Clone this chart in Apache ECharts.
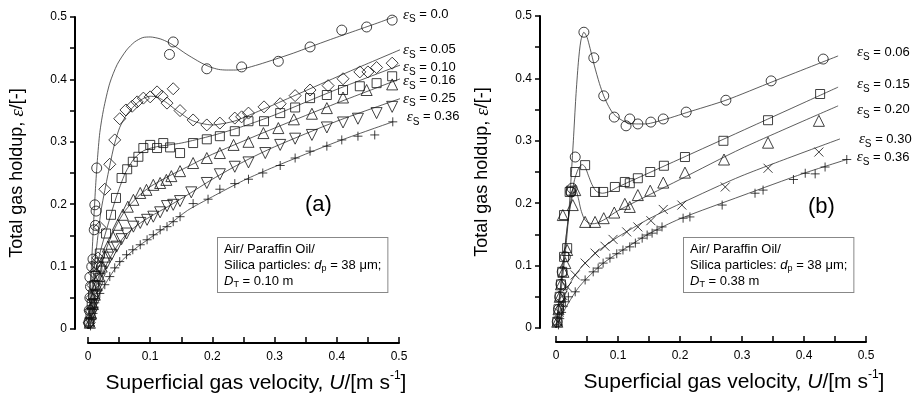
<!DOCTYPE html>
<html><head><meta charset="utf-8">
<script src="https://cdn.jsdelivr.net/npm/echarts@6/dist/echarts.min.js"></script>
<style>html,body{margin:0;padding:0;background:#fff}#c{width:919px;height:397px}</style>
</head><body><div id="c"></div>
<script>
// ---------- tick labels ----------
const xTickValues = [0, 0.1, 0.2, 0.3, 0.4, 0.5];
const yTickValues = [0, 0.1, 0.2, 0.3, 0.4, 0.5];

// ---------- series names (solid holdup) ----------
const labelsA = ['0.0', '0.05', '0.10', '0.16', '0.25', '0.36'];
const labelsB = ['0.06', '0.15', '0.20', '0.30', '0.36'];

// ---------- panel (a) measured points [U, eps] ----------
const a00 = [[0.001,0.01],[0.002,0.03],[0.003,0.05],[0.004,0.068],[0.003,0.083],[0.006,0.1],[0.008,0.112],[0.010,0.159],[0.012,0.166],[0.013,0.189],[0.011,0.199],[0.014,0.258],[0.131,0.44],[0.137,0.46],[0.191,0.417],[0.247,0.42],[0.306,0.429],[0.357,0.452],[0.408,0.479],[0.448,0.484],[0.489,0.495]];
const a05 = [[0.002,0.01],[0.004,0.03],[0.006,0.05],[0.008,0.07],[0.010,0.09],[0.013,0.105],[0.016,0.114],[0.019,0.163],[0.027,0.224],[0.035,0.264],[0.043,0.303],[0.051,0.337],[0.061,0.351],[0.071,0.357],[0.079,0.364],[0.089,0.37],[0.1,0.372],[0.111,0.38],[0.119,0.373],[0.127,0.362],[0.137,0.385],[0.148,0.35],[0.169,0.335],[0.191,0.327],[0.212,0.33],[0.236,0.338],[0.247,0.34],[0.258,0.346],[0.283,0.356],[0.309,0.361],[0.333,0.374],[0.357,0.383],[0.386,0.39],[0.41,0.401],[0.437,0.412],[0.45,0.412],[0.464,0.419],[0.489,0.426]];
const a10 = [[0.002,0.01],[0.004,0.025],[0.006,0.04],[0.008,0.055],[0.010,0.07],[0.012,0.085],[0.015,0.1],[0.019,0.121],[0.029,0.153],[0.037,0.183],[0.045,0.21],[0.054,0.242],[0.063,0.256],[0.072,0.268],[0.081,0.276],[0.089,0.29],[0.1,0.295],[0.111,0.29],[0.121,0.298],[0.132,0.291],[0.148,0.282],[0.169,0.298],[0.191,0.304],[0.212,0.309],[0.236,0.317],[0.258,0.333],[0.283,0.333],[0.309,0.346],[0.333,0.355],[0.357,0.37],[0.384,0.375],[0.41,0.383],[0.437,0.389],[0.464,0.394],[0.489,0.405]];
const a16 = [[0.003,0.01],[0.005,0.025],[0.008,0.04],[0.011,0.055],[0.014,0.07],[0.018,0.085],[0.022,0.1],[0.027,0.116],[0.032,0.132],[0.040,0.148],[0.048,0.167],[0.056,0.183],[0.064,0.196],[0.073,0.207],[0.084,0.218],[0.094,0.223],[0.105,0.231],[0.116,0.234],[0.126,0.239],[0.134,0.245],[0.148,0.253],[0.169,0.266],[0.191,0.274],[0.212,0.282],[0.234,0.295],[0.258,0.3],[0.282,0.314],[0.306,0.322],[0.331,0.336],[0.36,0.345],[0.384,0.354],[0.41,0.371],[0.448,0.383],[0.489,0.392]];
const a25 = [[0.004,0.01],[0.007,0.025],[0.010,0.04],[0.013,0.055],[0.016,0.068],[0.019,0.08],[0.022,0.092],[0.03,0.105],[0.038,0.119],[0.046,0.132],[0.054,0.144],[0.062,0.153],[0.073,0.164],[0.084,0.17],[0.095,0.175],[0.105,0.18],[0.116,0.187],[0.127,0.197],[0.137,0.199],[0.148,0.205],[0.166,0.219],[0.191,0.234],[0.212,0.248],[0.236,0.26],[0.258,0.267],[0.285,0.282],[0.309,0.295],[0.333,0.305],[0.36,0.311],[0.384,0.323],[0.41,0.331],[0.434,0.337],[0.464,0.346],[0.489,0.356]];
const a36 = [[0.004,0.005],[0.006,0.015],[0.008,0.025],[0.010,0.035],[0.011,0.042],[0.019,0.057],[0.027,0.071],[0.035,0.084],[0.043,0.098],[0.051,0.108],[0.062,0.119],[0.072,0.127],[0.084,0.135],[0.095,0.143],[0.105,0.151],[0.116,0.159],[0.127,0.164],[0.137,0.172],[0.148,0.18],[0.169,0.201],[0.193,0.208],[0.212,0.224],[0.236,0.233],[0.258,0.24],[0.281,0.25],[0.309,0.262],[0.333,0.274],[0.357,0.285],[0.384,0.293],[0.408,0.303],[0.434,0.309],[0.461,0.311],[0.49,0.332]];

// ---------- panel (a) fitted curves ----------
const c00 = [[0,0],[0.003,0.05],[0.006,0.11],[0.009,0.17],[0.012,0.225],[0.015,0.27],[0.019,0.315],[0.025,0.352],[0.035,0.394],[0.047,0.424],[0.062,0.447],[0.075,0.46],[0.088,0.467],[0.1,0.468],[0.116,0.465],[0.13,0.459],[0.143,0.451],[0.156,0.442],[0.169,0.434],[0.183,0.426],[0.196,0.42],[0.21,0.416],[0.223,0.415],[0.237,0.415],[0.25,0.417],[0.275,0.424],[0.3,0.432],[0.33,0.442],[0.357,0.452],[0.39,0.464],[0.43,0.478],[0.47,0.492],[0.51,0.507]];
const c05 = [[0,0],[0.004,0.04],[0.008,0.08],[0.012,0.115],[0.016,0.15],[0.021,0.19],[0.027,0.222],[0.035,0.262],[0.043,0.298],[0.051,0.323],[0.06,0.34],[0.07,0.353],[0.08,0.363],[0.09,0.37],[0.1,0.373],[0.11,0.372],[0.12,0.367],[0.13,0.36],[0.14,0.352],[0.15,0.345],[0.16,0.338],[0.17,0.333],[0.18,0.33],[0.19,0.328],[0.2,0.327],[0.21,0.328],[0.235,0.333],[0.26,0.343],[0.3,0.36],[0.357,0.385],[0.43,0.417],[0.51,0.451]];
const c10 = [[0,0],[0.005,0.04],[0.01,0.075],[0.015,0.102],[0.02,0.125],[0.03,0.16],[0.045,0.21],[0.06,0.25],[0.075,0.274],[0.09,0.286],[0.11,0.292],[0.15,0.298],[0.2,0.31],[0.25,0.325],[0.3,0.343],[0.4,0.384],[0.51,0.426]];
const c16 = [[0,0],[0.005,0.03],[0.01,0.055],[0.02,0.095],[0.03,0.13],[0.045,0.165],[0.06,0.19],[0.08,0.212],[0.1,0.228],[0.13,0.245],[0.16,0.26],[0.2,0.28],[0.3,0.322],[0.4,0.362],[0.51,0.404]];
const c25 = [[0,0],[0.005,0.024],[0.01,0.045],[0.02,0.08],[0.03,0.104],[0.045,0.13],[0.06,0.15],[0.08,0.167],[0.1,0.18],[0.13,0.197],[0.16,0.215],[0.2,0.24],[0.25,0.268],[0.3,0.292],[0.4,0.333],[0.51,0.372]];
const c36 = [[0,0],[0.005,0.018],[0.01,0.035],[0.02,0.058],[0.035,0.084],[0.05,0.105],[0.075,0.128],[0.1,0.146],[0.13,0.167],[0.16,0.19],[0.2,0.212],[0.25,0.238],[0.3,0.26],[0.4,0.3],[0.49,0.332]];

// ---------- panel (b) measured points ----------
const b06 = [[0.002,0.01],[0.004,0.03],[0.006,0.05],[0.008,0.07],[0.010,0.09],[0.015,0.114],[0.024,0.218],[0.026,0.224],[0.031,0.274],[0.045,0.474],[0.061,0.433],[0.077,0.372],[0.094,0.338],[0.113,0.324],[0.119,0.335],[0.132,0.327],[0.153,0.33],[0.173,0.335],[0.21,0.346],[0.274,0.365],[0.347,0.396],[0.431,0.431]];
const b15 = [[0.002,0.01],[0.004,0.03],[0.006,0.05],[0.008,0.07],[0.010,0.09],[0.013,0.114],[0.018,0.128],[0.013,0.181],[0.022,0.218],[0.024,0.22],[0.031,0.25],[0.047,0.261],[0.063,0.218],[0.076,0.218],[0.095,0.226],[0.111,0.234],[0.119,0.232],[0.132,0.24],[0.152,0.25],[0.174,0.26],[0.208,0.274],[0.27,0.3],[0.342,0.333],[0.426,0.375]];
const b20 = [[0.002,0.01],[0.004,0.03],[0.006,0.05],[0.008,0.07],[0.012,0.09],[0.015,0.104],[0.018,0.125],[0.011,0.181],[0.027,0.197],[0.031,0.221],[0.047,0.17],[0.063,0.17],[0.077,0.176],[0.094,0.185],[0.111,0.199],[0.119,0.194],[0.132,0.213],[0.152,0.22],[0.173,0.233],[0.208,0.249],[0.271,0.27],[0.342,0.297],[0.424,0.332]];
const b30 = [[0.003,0.01],[0.005,0.025],[0.008,0.04],[0.011,0.052],[0.018,0.066],[0.031,0.085],[0.047,0.104],[0.063,0.12],[0.079,0.131],[0.092,0.142],[0.114,0.154],[0.132,0.162],[0.153,0.172],[0.173,0.19],[0.203,0.197],[0.273,0.226],[0.342,0.256],[0.424,0.282]];
const b36 = [[0.004,0.005],[0.006,0.015],[0.009,0.025],[0.012,0.035],[0.015,0.042],[0.02,0.05],[0.031,0.058],[0.047,0.077],[0.06,0.09],[0.068,0.096],[0.076,0.104],[0.087,0.112],[0.098,0.119],[0.108,0.125],[0.119,0.13],[0.128,0.136],[0.139,0.144],[0.147,0.149],[0.155,0.152],[0.163,0.157],[0.171,0.162],[0.205,0.176],[0.216,0.178],[0.268,0.197],[0.321,0.216],[0.334,0.221],[0.383,0.238],[0.402,0.248],[0.418,0.247],[0.434,0.258],[0.469,0.27]];

// ---------- panel (b) fitted curves ----------
const d06 = [[0,0],[0.005,0.035],[0.01,0.075],[0.015,0.12],[0.02,0.175],[0.024,0.235],[0.028,0.3],[0.032,0.37],[0.036,0.425],[0.04,0.46],[0.045,0.474],[0.05,0.466],[0.055,0.448],[0.062,0.42],[0.07,0.392],[0.077,0.372],[0.085,0.355],[0.092,0.344],[0.1,0.337],[0.11,0.331],[0.12,0.328],[0.13,0.327],[0.145,0.327],[0.16,0.33],[0.185,0.337],[0.21,0.345],[0.274,0.365],[0.35,0.395],[0.455,0.436]];
const d15 = [[0,0],[0.005,0.045],[0.01,0.09],[0.015,0.135],[0.02,0.178],[0.025,0.212],[0.03,0.238],[0.036,0.255],[0.042,0.262],[0.047,0.258],[0.052,0.245],[0.058,0.23],[0.065,0.219],[0.075,0.216],[0.087,0.219],[0.1,0.226],[0.2,0.271],[0.3,0.316],[0.455,0.386]];
const d20 = [[0,0],[0.005,0.045],[0.01,0.09],[0.015,0.135],[0.02,0.175],[0.025,0.205],[0.029,0.219],[0.032,0.22],[0.036,0.208],[0.04,0.19],[0.045,0.176],[0.05,0.17],[0.058,0.167],[0.066,0.168],[0.08,0.175],[0.1,0.188],[0.2,0.238],[0.3,0.288],[0.455,0.356]];
const d30 = [[0,0],[0.005,0.022],[0.01,0.04],[0.02,0.066],[0.031,0.085],[0.047,0.104],[0.07,0.125],[0.1,0.146],[0.15,0.175],[0.2,0.199],[0.3,0.244],[0.458,0.303]];
const d36 = [[0,0],[0.005,0.012],[0.01,0.022],[0.02,0.04],[0.035,0.063],[0.05,0.08],[0.075,0.103],[0.1,0.12],[0.15,0.151],[0.2,0.175],[0.3,0.212],[0.4,0.248],[0.469,0.27]];

// ---------- build ----------
const SANS = 'Liberation Sans';
const SERIF = 'Liberation Serif';
const PLUS = 'path://M0,5L10,5M5,0L5,10';
const CROSS = 'path://M0,0L10,10M10,0L0,10';

function fmtTick(list) {
  return function (v) {
    const t = list.find(x => Math.abs(x - v) < 1e-9);
    return t === undefined ? '' : String(t);
  };
}
const xName = 'Superficial gas velocity, {i|U}/[m s{sup|-1}]';
const yName = 'Total gas holdup, {e|ε}/[-]';

function xAxisFor(gi, padLeft) {
  return {
    type: 'value', gridIndex: gi, min: 0, max: 0.5, interval: 0.05, offset: 14,
    axisLine: { show: true, onZero: false, lineStyle: { color: '#000', width: 2 } },
    axisTick: { show: true, inside: true, length: 6, lineStyle: { color: '#000', width: 1.5 } },
    axisLabel: { color: '#000', fontSize: 12, fontFamily: SANS, margin: 8, formatter: fmtTick(xTickValues) },
    splitLine: { show: false },
    name: xName, nameLocation: 'middle', nameGap: 27,
    nameTextStyle: {
      color: '#000', fontSize: 21, fontFamily: SANS, lineHeight: 26, padding: [0, 0, 0, padLeft],
      rich: {
        i: { fontStyle: 'italic', fontSize: 21, fontFamily: SANS, lineHeight: 26 },
        sup: { fontSize: 12, fontFamily: SANS, verticalAlign: 'top', lineHeight: 14 }
      }
    }
  };
}
function yAxisFor(gi, off) {
  return {
    type: 'value', gridIndex: gi, min: 0, max: 0.5, interval: 0.05, offset: off,
    axisLine: { show: true, onZero: false, lineStyle: { color: '#000', width: 2 } },
    axisTick: { show: true, inside: false, length: 5, lineStyle: { color: '#000', width: 1.5 } },
    axisLabel: { color: '#000', fontSize: 12, fontFamily: SANS, margin: 8, formatter: fmtTick(yTickValues) },
    splitLine: { show: false },
    name: yName, nameLocation: 'middle', nameRotate: 90, nameGap: 48,
    nameTextStyle: {
      color: '#000', fontSize: 18, fontFamily: SANS,
      rich: { e: { fontStyle: 'italic', fontFamily: SERIF, fontSize: 19 } }
    }
  };
}

const epsRich = {
  e: { fontStyle: 'italic', fontFamily: SERIF, fontSize: 15, lineHeight: 20, color: '#000' },
  s: { fontSize: 10, fontFamily: SANS, verticalAlign: 'bottom', lineHeight: 11, color: '#000' },
  t: { fontSize: 13, fontFamily: SANS, lineHeight: 20, color: '#000' }
};

function curveSeries(gi, data, name, dist, dy) {
  return {
    type: 'line', xAxisIndex: gi, yAxisIndex: gi, data: data, smooth: 0.25,
    showSymbol: false, symbol: 'none', silent: true, z: 1,
    lineStyle: { color: '#333', width: 0.8 },
    endLabel: {
      show: true, distance: dist, offset: [0, dy],
      formatter: '{e|ε}{s|S}{t| = ' + name + '}', rich: epsRich
    }
  };
}
function pointSeries(gi, data, symbol, size, rot) {
  return {
    type: 'scatter', xAxisIndex: gi, yAxisIndex: gi, data: data, z: 2, silent: true,
    symbol: symbol, symbolSize: size, symbolRotate: rot || 0,
    itemStyle: { color: 'transparent', borderColor: '#111', borderWidth: 1 }
  };
}

const boxRich = {
  i: { fontStyle: 'italic', fontSize: 13, fontFamily: SANS, lineHeight: 16, color: '#000' },
  sub: { fontSize: 9, fontFamily: SANS, verticalAlign: 'bottom', lineHeight: 9, color: '#000' }
};
function boxText(dt) {
  return 'Air/ Paraffin Oil/\nSilica particles: {i|d}{sub|p} = 38 μm;\n{i|D}{sub|T} = ' + dt + ' m';
}

const series = [
  curveSeries(0, c00, labelsA[0], 3, 0),
  curveSeries(0, c05, labelsA[1], 3, 0),
  curveSeries(0, c10, labelsA[2], 3, 2),
  curveSeries(0, c16, labelsA[3], 3, 2),
  curveSeries(0, c25, labelsA[4], 3, 0),
  curveSeries(0, c36, labelsA[5], 14, -5),
  pointSeries(0, a00, 'circle', 10),
  pointSeries(0, a05, 'diamond', 12),
  pointSeries(0, a10, 'rect', 9),
  pointSeries(0, a16, 'triangle', 11),
  pointSeries(0, a25, 'triangle', 11, 180),
  pointSeries(0, a36, PLUS, 9),
  curveSeries(1, d06, labelsB[0], 19, -4),
  curveSeries(1, d15, labelsB[1], 19, -3),
  curveSeries(1, d20, labelsB[2], 19, 4),
  curveSeries(1, d30, labelsB[3], 19, 0),
  curveSeries(1, d36, labelsB[4], 10, -2),
  pointSeries(1, b06, 'circle', 10),
  pointSeries(1, b15, 'rect', 9),
  pointSeries(1, b20, 'triangle', 11),
  pointSeries(1, b30, CROSS, 9),
  pointSeries(1, b36, PLUS, 9)
];

const chart = echarts.init(document.getElementById('c'), null, { renderer: 'canvas' });
chart.setOption({
  backgroundColor: '#fff',
  animation: false,
  grid: [
    { left: 88, top: 17, width: 311, height: 312, containLabel: false, outerBoundsMode: 'none' },
    { left: 556, top: 16, width: 310, height: 312, containLabel: false, outerBoundsMode: 'none' }
  ],
  xAxis: [xAxisFor(0, 25), xAxisFor(1, 46)],
  yAxis: [yAxisFor(0, 13), yAxisFor(1, 16)],
  series: series,
  graphic: [
    { type: 'text', left: 305, top: 194, style: { text: '(a)', fontSize: 22, fontFamily: SANS, fill: '#000' } },
    { type: 'text', left: 808, top: 196, style: { text: '(b)', fontSize: 22, fontFamily: SANS, fill: '#000' } },
    { type: 'text', left: 217, top: 237, style: { text: boxText('0.10'), fontSize: 13, fontFamily: SANS, lineHeight: 16, fill: '#000',
        rich: boxRich, backgroundColor: '#fff', borderColor: '#888', borderWidth: 1, padding: [3, 6, 3, 6] } },
    { type: 'text', left: 683, top: 237, style: { text: boxText('0.38'), fontSize: 13, fontFamily: SANS, lineHeight: 16, fill: '#000',
        rich: boxRich, backgroundColor: '#fff', borderColor: '#888', borderWidth: 1, padding: [3, 6, 3, 6] } }
  ]
});
</script>
</body></html>
